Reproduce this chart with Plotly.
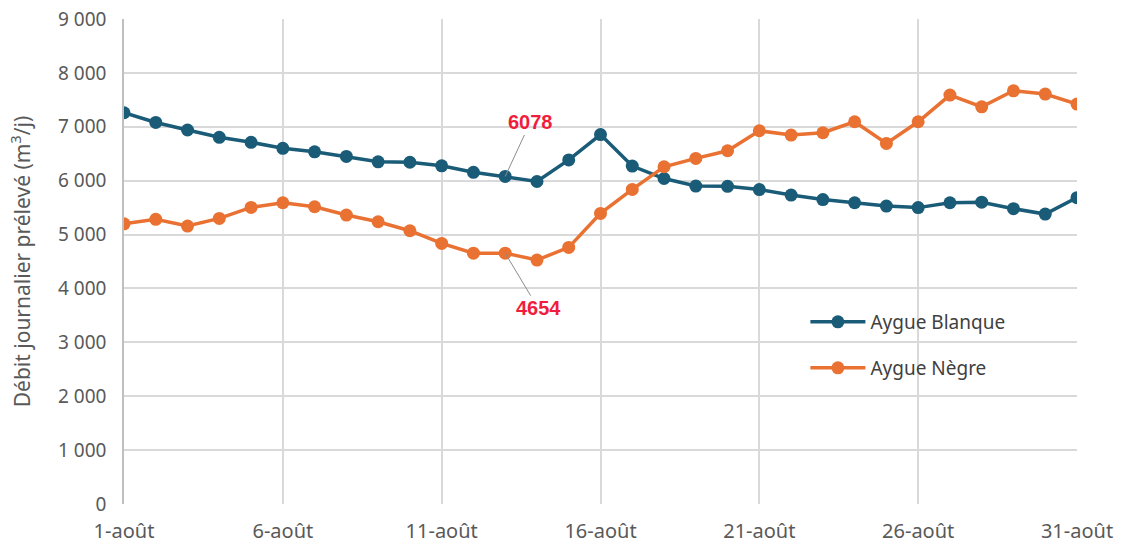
import plotly.graph_objects as go

days = list(range(1, 32))
tick_days = [1, 6, 11, 16, 21, 26, 31]
tick_labels = [f"{d}-août" for d in tick_days]

blanque = [7260, 7080, 6940, 6805, 6712, 6600, 6535, 6450, 6350, 6342,
           6275, 6155, 6078, 5985, 6385, 6855, 6271, 6040, 5900, 5895,
           5835, 5733, 5650, 5590, 5529, 5500, 5590, 5600, 5480, 5380, 5685]
negre = [5200, 5282, 5158, 5300, 5504, 5590, 5516, 5362, 5238, 5071,
         4836, 4655, 4654, 4527, 4762, 5393, 5838, 6258, 6413, 6555,
         6926, 6846, 6889, 7093, 6692, 7093, 7588, 7371, 7668, 7607, 7421]

BLUE = "#1a5c78"
ORANGE = "#e97132"
GREY = "#595959"
RED = "#f01e3c"
FONT = "Noto Sans"

fig = go.Figure()
fig.add_trace(go.Scatter(x=days, y=blanque, mode="lines+markers", name="Aygue Blanque",
                         line=dict(color=BLUE, width=3.5),
                         marker=dict(color=BLUE, size=13),
                         showlegend=True, legend="legend"))
fig.add_trace(go.Scatter(x=days, y=negre, mode="lines+markers", name="Aygue Nègre",
                         line=dict(color=ORANGE, width=3.5),
                         marker=dict(color=ORANGE, size=13),
                         showlegend=True, legend="legend2"))

# labels for day 13
fig.add_annotation(x=13, y=blanque[12], text="<b>6078</b>", showarrow=True,
                   arrowhead=0, arrowwidth=1, arrowcolor="#8c8c8c",
                   ax=25, ay=-54, font=dict(color=RED, size=20, family="Liberation Sans"))
fig.add_annotation(x=13, y=negre[12], text="<b>4654</b>", showarrow=True,
                   arrowhead=0, arrowwidth=1, arrowcolor="#8c8c8c",
                   ax=33, ay=55, font=dict(color=RED, size=20, family="Liberation Sans"))

legend_style = dict(bgcolor="rgba(255,255,255,0)", borderwidth=0, itemwidth=55,
                    font=dict(family=FONT, size=19, color="#404040"),
                    xanchor="left", yanchor="middle", xref="paper", yref="paper")

fig.update_layout(
    width=1121, height=548,
    margin=dict(l=124, r=44, t=19, b=44),
    paper_bgcolor="white", plot_bgcolor="white",
    separators=", ",
    showlegend=True,
    font=dict(family=FONT, size=19, color=GREY),
    legend=dict(x=0.715, y=(504 - 322) / 485, **legend_style),
    legend2=dict(x=0.715, y=(504 - 368) / 485, **legend_style),
    xaxis=dict(range=[1, 31], tickvals=tick_days, ticktext=tick_labels,
               showgrid=True, gridcolor="#d9d9d9", gridwidth=1.5,
               showline=False, zeroline=False, ticks="", automargin=False,
               tickfont=dict(size=20, color=GREY), ticklabelstandoff=13),
    yaxis=dict(range=[0, 9000], dtick=1000, tickformat=",d",
               showgrid=True, gridcolor="#d9d9d9", gridwidth=1.5,
               zeroline=False, showline=True, linecolor="#bfbfbf", linewidth=1.5,
               ticks="", ticklabelstandoff=12, automargin=False,
               tickfont=dict(size=19, color=GREY),
               title=dict(text="Débit journalier prélevé (m<sup>3</sup>/j)",
                          font=dict(size=21, color=GREY), standoff=22)),
)

fig.write_html("out.html", config={"displayModeBar": False},
               post_script="document.body.style.margin='0';")
